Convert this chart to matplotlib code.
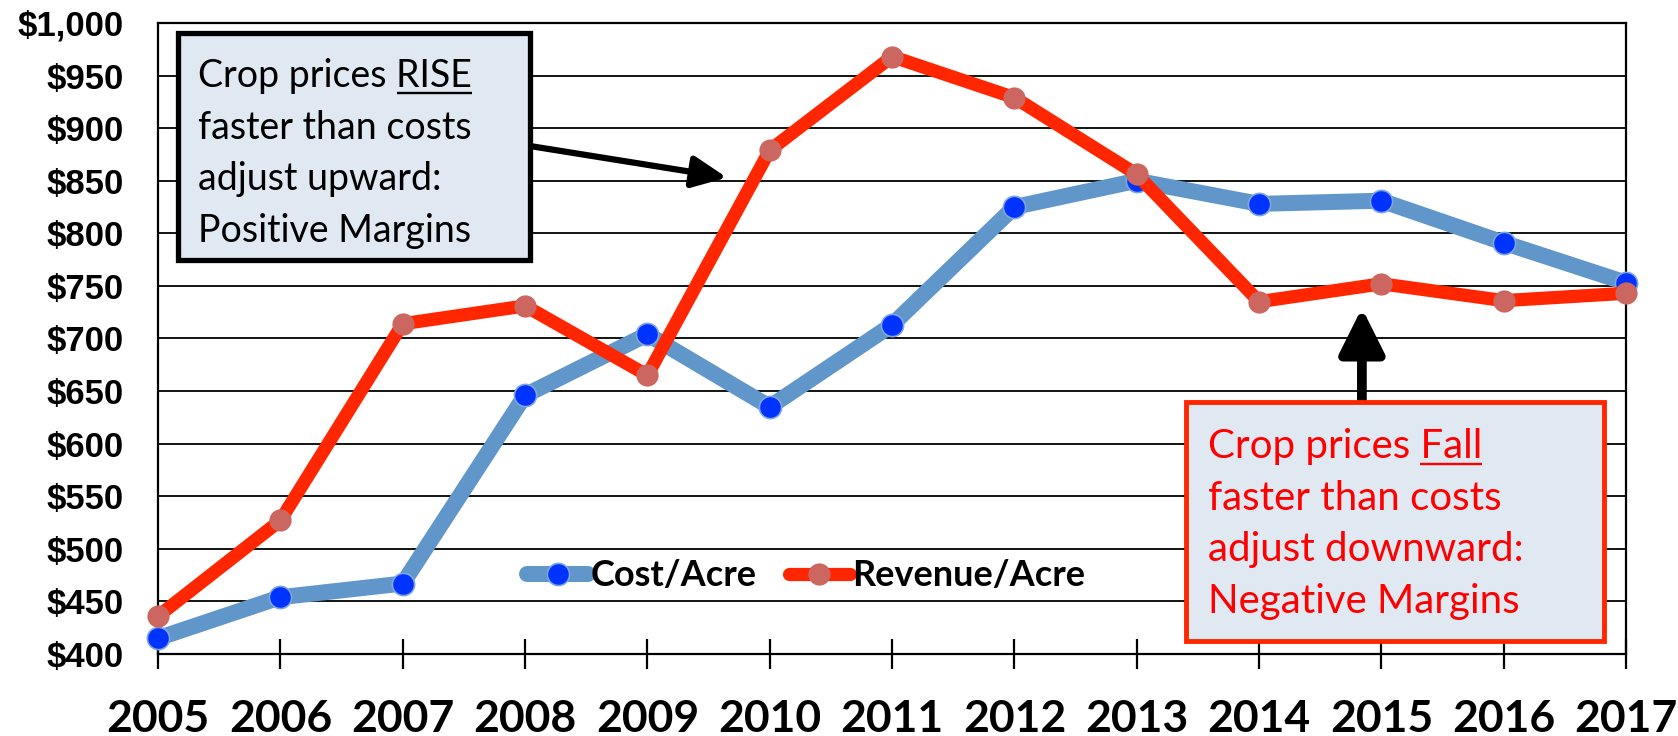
"""Cost vs revenue per acre, 2005-2017, with margin call-outs."""

import matplotlib

matplotlib.use("Agg")
import matplotlib.pyplot as plt
from matplotlib.lines import Line2D
from matplotlib.patches import FancyArrowPatch, Rectangle
from matplotlib.ticker import FuncFormatter

years = [2005, 2006, 2007, 2008, 2009, 2010, 2011, 2012, 2013, 2014, 2015, 2016, 2017]
cost_per_acre = [415, 454, 467, 646, 704, 635, 713, 825, 850, 828, 831, 791, 753]
revenue_per_acre = [436, 527, 714, 731, 665, 879, 968, 929, 856, 735, 752, 736, 743]
series_labels = ["Cost/Acre", "Revenue/Acre"]

rise_lines = ["Crop prices RISE", "faster than costs", "adjust upward:", "Positive Margins"]
fall_lines = ["Crop prices Fall", "faster than costs", "adjust downward:", "Negative Margins"]

COST_LINE = "#6096C9"
COST_MARK = "#0033FF"
REV_LINE = "#FF2600"
REV_MARK = "#CC6660"
BOX_FILL = "#E0E8F2"
TEXT_FONT = ["Lato", "DejaVu Sans"]
AXIS_FONT = ["Liberation Sans", "DejaVu Sans"]

fig = plt.figure(figsize=(16.78, 7.36), dpi=100)
ax = fig.add_axes([0.0942, 0.1114, 0.8749, 0.8574])

ax.plot(years, cost_per_acre, color=COST_LINE, lw=11.5, marker="o", ms=16,
        mfc=COST_MARK, mec="#7FA6DC", mew=1.2, clip_on=False, zorder=3,
        solid_joinstyle="miter", solid_capstyle="butt")
ax.plot(years, revenue_per_acre, color=REV_LINE, lw=9.5, marker="o", ms=16,
        mfc=REV_MARK, mec=REV_MARK, mew=0, clip_on=False, zorder=4,
        solid_joinstyle="miter", solid_capstyle="butt")

ax.set_xlim(2005, 2017)
ax.set_ylim(400, 1000)
ax.set_xticks(years)
ax.set_yticks(range(400, 1001, 50))
ax.yaxis.set_major_formatter(FuncFormatter(lambda v, _: f"${v:,.0f}"))
ax.grid(axis="y", color="black", lw=1.3)
ax.set_axisbelow(True)
for sp in ax.spines.values():
    sp.set_linewidth(1.6)
    sp.set_color("black")

ax.tick_params(axis="x", direction="inout", length=21, width=1.6, pad=22)
ax.tick_params(axis="y", length=0, pad=25)
for lbl in ax.get_xticklabels():
    lbl.set_fontfamily(TEXT_FONT)
    lbl.set_fontweight("bold")
    lbl.set_fontsize(32)
for lbl in ax.get_yticklabels():
    lbl.set_fontfamily(AXIS_FONT)
    lbl.set_fontweight("bold")
    lbl.set_fontsize(25)

# legend
handles = [
    Line2D([], [], color=COST_LINE, lw=11.5, marker="o", ms=16, mfc=COST_MARK,
           mec="#7FA6DC", mew=1.2, solid_capstyle="round"),
    Line2D([], [], color=REV_LINE, lw=9.5, marker="o", ms=16, mfc=REV_MARK,
           mew=0, solid_capstyle="round"),
]
ax.legend(handles, series_labels, loc="center", ncol=2, frameon=False,
          bbox_to_anchor=(806 / 1678, 1 - 576 / 736), bbox_transform=fig.transFigure,
          prop={"family": TEXT_FONT, "weight": "bold", "size": 26},
          handlelength=1.7, handletextpad=0.05, columnspacing=0.9, borderpad=0)

# call-out boxes
ax.add_patch(Rectangle((2005.16, 775), 2.88, 215, facecolor=BOX_FILL,
                       edgecolor="black", lw=3.8, zorder=6, clip_on=False))
ax.add_patch(Rectangle((2013.40, 412), 3.42, 228, facecolor=BOX_FILL,
                       edgecolor=REV_LINE, lw=3.5, zorder=6, clip_on=False))

fig.canvas.draw()
renderer = fig.canvas.get_renderer()


def write_block(lines, x, y_baselines, color, word, size):
    for i, (line, yb) in enumerate(zip(lines, y_baselines)):
        t = ax.text(x, yb, line, color=color, fontsize=size, family=TEXT_FONT,
                    va="baseline", ha="left", zorder=7)
        if i == 0:
            # underline the last word of the first line
            bb = t.get_window_extent(renderer)
            tmp = ax.text(x, yb, word, fontsize=size, family=TEXT_FONT)
            wb = tmp.get_window_extent(renderer)
            tmp.remove()
            base_px = ax.transData.transform((x, yb))[1]
            inv = ax.transData.inverted()
            x0, y0 = inv.transform((bb.x1 - wb.width, base_px - 6))
            x1, _ = inv.transform((bb.x1, base_px - 6))
            ax.plot([x0, x1], [y0, y0], color=color, lw=1.7, zorder=7,
                    solid_capstyle="butt", clip_on=False)


write_block(rise_lines, 2005.33, [939, 890, 841, 792], "black", "RISE", 27)
write_block(fall_lines, 2013.58, [586, 537, 488, 439], "#FF0000", "Fall", 29)

# arrows
ax.add_patch(FancyArrowPatch((2008.04, 883), (2009.65, 853),
                             arrowstyle="-|>,head_length=1.3,head_width=0.6",
                             mutation_scale=16, lw=4.5, color="black", zorder=5,
                             shrinkA=0, shrinkB=0))
ax.add_patch(FancyArrowPatch((2014.84, 640), (2014.84, 729),
                             arrowstyle="-|>,head_length=1.7,head_width=0.85",
                             mutation_scale=16, lw=7, color="black", zorder=5,
                             shrinkA=0, shrinkB=0))

fig.savefig("out.png", dpi=100)
